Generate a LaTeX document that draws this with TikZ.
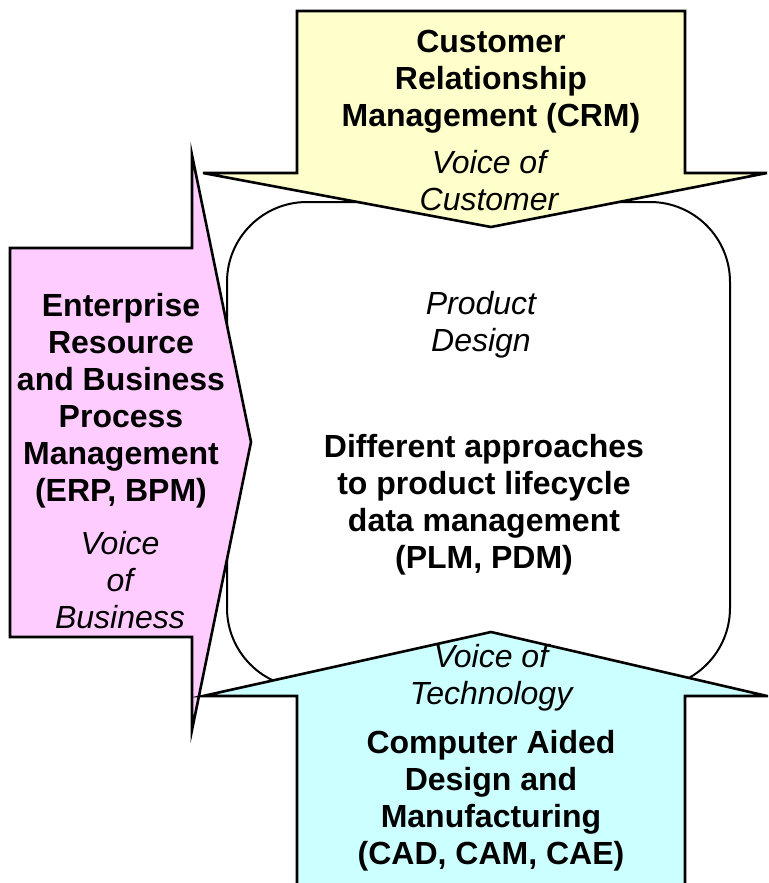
\documentclass[tikz,border=0pt]{standalone}
\usepackage{fontspec}
\setmainfont{Liberation Sans}
\usetikzlibrary{calc}
\definecolor{giallo}{HTML}{FFFFCC}
\definecolor{rosa}{HTML}{FFCCFF}
\definecolor{ciano}{HTML}{CCFFFF}
\tikzset{
  freccia/.style={draw=black, line width=2.6pt, line join=miter},
  titolo/.style={align=center, inner sep=0pt, font=\fontsize{32}{37}\selectfont\bfseries},
  voce/.style={align=center, inner sep=0pt, font=\fontsize{32}{37}\selectfont\itshape},
}

\begin{document}
\begin{tikzpicture}[x=1pt,y=-1pt]
%linee guida
%\foreach \x in {0,100,...,700}
%   \draw [help lines] (\x,0) -- (\x,883);
\useasboundingbox (0,0) rectangle (768,883);
\clip (0,0) rectangle (768,883);

% contenitore centrale
\draw[line width=2pt, fill=white, rounded corners=80pt] (227,202) rectangle (730,688);

% freccia CRM (alto)
\draw[freccia, fill=giallo] (297,11) -- (685,11) -- (685,173) -- (767,173)
   -- (491,227) -- (203,173) -- (297,173) -- cycle;
% freccia ERP (sinistra)
\draw[freccia, fill=rosa] (10,248) -- (192,248) -- (192,155) -- (251,442)
   -- (192,730) -- (192,637) -- (10,637) -- cycle;
% freccia CAD (basso)
\draw[freccia, fill=ciano] (297,900) -- (297,696) -- (203,696) -- (491,632)
   -- (767,696) -- (685,696) -- (685,900);

% testi
\node[titolo] (crm) at (491,82) {Customer\\Relationship\\Management (CRM)};
\node[voce] (voc) at (489,181) {Voice of\\Customer};

\node[titolo] (erp) at (121,401) {Enterprise\\Resource\\and Business\\Process\\Management\\(ERP, BPM)};
\node[voce] (vob) at (120,580) {Voice\\of\\Business};

\node[voce] (pd) at (481,325) {Product\\Design};
\node[titolo] (plm) at (484,505) {Different approaches\\to product lifecycle\\data management\\(PLM, PDM)};

\node[voce] (vot) at (491,678) {Voice of\\Technology};
\node[titolo] (cad) at (491,801) {Computer Aided\\Design and\\Manufacturing\\(CAD, CAM, CAE)};
\end{tikzpicture}
\end{document}
